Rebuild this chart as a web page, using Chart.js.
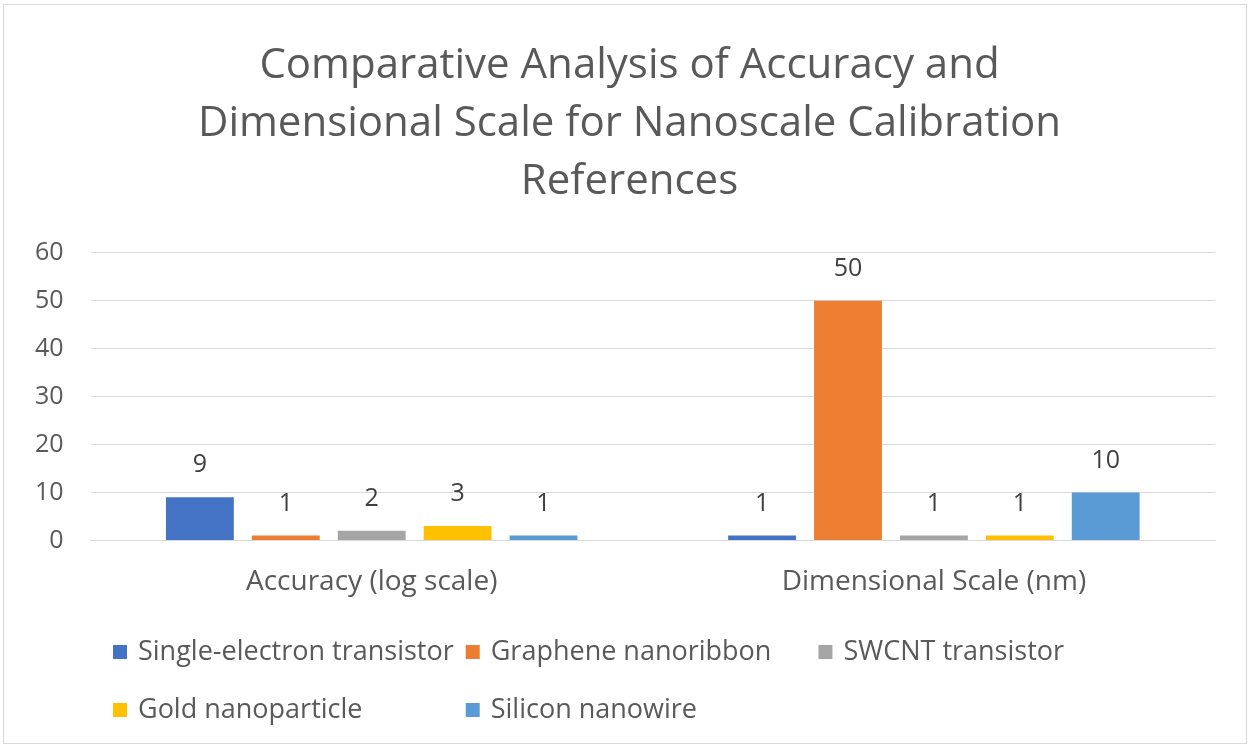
<!DOCTYPE html>
<html>
<head>
<meta charset="utf-8">
<script src="https://cdn.jsdelivr.net/npm/chart.js@4.4.0/dist/chart.umd.min.js"></script>
<style>
  body { margin: 0; background: #fff; }
  #wrap { position: absolute; left: 3px; top: 4px; width: 1244px; height: 740px; border: 1px solid #d9d9d9; box-sizing: border-box; }
</style>
</head>
<body>
<div id="wrap"><canvas id="myChart"></canvas></div>
<script>
const categories = ['Accuracy (log scale)', 'Dimensional Scale (nm)'];
const seriesNames = ['Single-electron transistor', 'Graphene nanoribbon', 'SWCNT transistor', 'Gold nanoparticle', 'Silicon nanowire'];
const singleElectron = [9, 1];
const grapheneRibbon = [1, 50];
const swcntTransistor = [2, 1];
const goldParticle = [3, 1];
const siliconWire = [1, 10];
const colors = ['#4472C4', '#ED7D31', '#A5A5A5', '#FFC000', '#5B9BD5'];
const yTicks = [0, 10, 20, 30, 40, 50, 60];

const ctx = document.getElementById('myChart');
const fontFam = '"Open Sans", "Noto Sans", sans-serif';

// draws the value above each bar
const valueLabels = {
  id: 'valueLabels',
  afterDatasetsDraw(chart) {
    const c = chart.ctx;
    c.save();
    c.font = '25px ' + fontFam;
    c.fillStyle = '#404040';
    c.textAlign = 'center';
    c.textBaseline = 'middle';
    chart.data.datasets.forEach((ds, i) => {
      chart.getDatasetMeta(i).data.forEach((bar, j) => {
        c.fillText(ds.data[j], bar.x, bar.y - 32);
      });
    });
    c.restore();
  }
};

// legend laid out in equal columns, 3 per row, like the office one
const gridLegend = {
  id: 'gridLegend',
  afterDraw(chart) {
    const c = chart.ctx;
    const perRow = 3, box = 14, gap = 11, space = 12;
    c.save();
    c.font = '27px ' + fontFam;
    c.textBaseline = 'middle';
    c.textAlign = 'left';
    let colW = 0;
    chart.data.datasets.forEach(ds => {
      colW = Math.max(colW, box + gap + c.measureText(ds.label).width + space);
    });
    const top = chart.scales.x.bottom;
    chart.data.datasets.forEach((ds, i) => {
      const col = i % perRow, row = Math.floor(i / perRow);
      const x = 109 + col * colW;
      const y = top + 36 + row * 58;
      c.fillStyle = ds.backgroundColor;
      c.fillRect(x, y - box / 2, box, box);
      c.fillStyle = '#595959';
      c.fillText(ds.label, x + box + gap, y);
    });
    c.restore();
  }
};

// title sits a little right of the canvas middle in the original
const nudgeTitle = {
  id: 'nudgeTitle',
  afterLayout(chart) {
    if (chart.titleBlock) {
      chart.titleBlock.left += 18;
      chart.titleBlock.right += 18;
    }
  }
};

const allSeries = [singleElectron, grapheneRibbon, swcntTransistor, goldParticle, siliconWire];

new Chart(ctx, {
  type: 'bar',
  data: {
    labels: categories,
    datasets: allSeries.map((d, i) => ({
      label: seriesNames[i],
      data: d,
      backgroundColor: colors[i],
      borderWidth: 0,
      barPercentage: 0.79,
      categoryPercentage: 0.764
    }))
  },
  options: {
    responsive: true,
    maintainAspectRatio: false,
    animation: false,
    layout: { padding: { left: 4, right: 31, top: 32, bottom: 127 } },
    plugins: {
      title: {
        display: true,
        text: ['Comparative Analysis of Accuracy and', 'Dimensional Scale for Nanoscale Calibration', 'References'],
        color: '#595959',
        font: { family: fontFam, size: 42, weight: 'normal', lineHeight: 1.38 },
        padding: { top: 0, bottom: 42 }
      },
      legend: { display: false },
      tooltip: { enabled: false }
    },
    scales: {
      x: {
        grid: { display: false },
        border: { color: '#d9d9d9' },
        ticks: { color: '#595959', font: { family: fontFam, size: 28 }, padding: 17 }
      },
      y: {
        min: 0,
        max: 60,
        afterBuildTicks: axis => { axis.ticks = yTicks.map(v => ({ value: v })); },
        grid: { color: '#d9d9d9', drawTicks: false },
        border: { display: false },
        ticks: { color: '#595959', font: { family: fontFam, size: 25 }, padding: 27 }
      }
    }
  },
  plugins: [valueLabels, gridLegend, nudgeTitle]
});
</script>
</body>
</html>
